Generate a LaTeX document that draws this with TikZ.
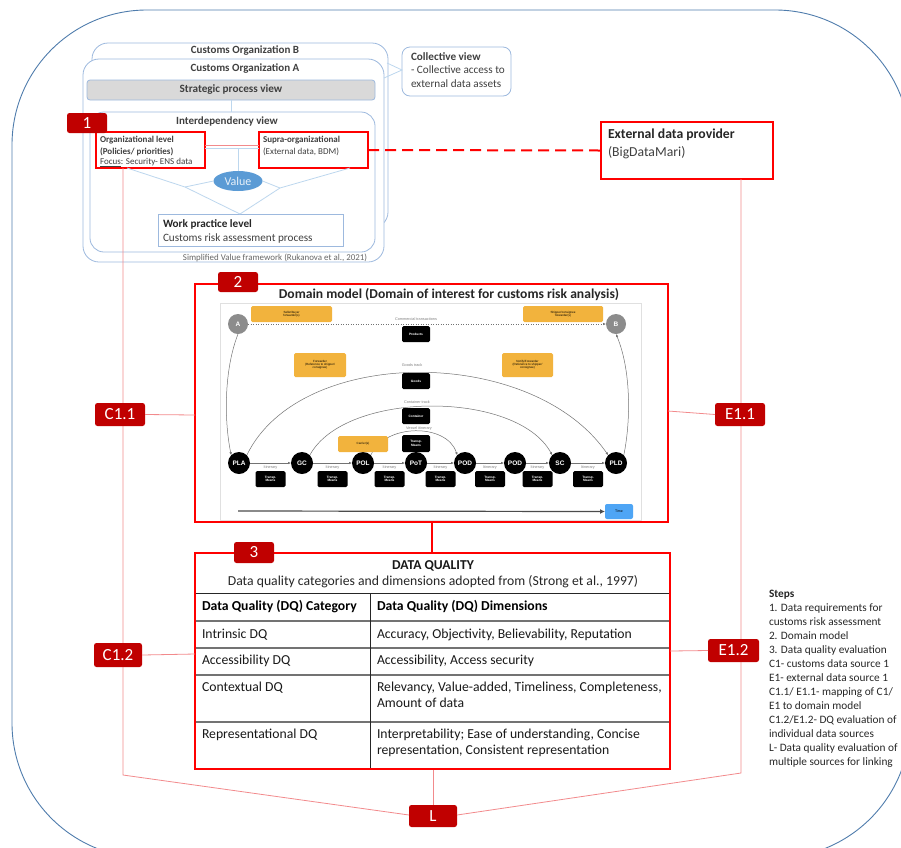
\documentclass[tikz,border=0pt]{standalone}
\usepackage{fontspec}
\setmainfont{Carlito}
\newfontfamily\hvfont{Liberation Sans}
\usetikzlibrary{arrows.meta,shapes.geometric,calc}
\definecolor{lblred}{HTML}{C00000}
\definecolor{frameblue}{HTML}{4F7CAC}
\definecolor{lightblue}{HTML}{9DB9DE}
\definecolor{paleblue}{HTML}{BDD7EE}
\definecolor{valblue}{HTML}{5B9BD5}
\definecolor{orangebox}{HTML}{F2B33D}
\definecolor{thinred}{HTML}{F28A8C}
\definecolor{timeblue}{HTML}{4EA5F5}
\definecolor{txtgray}{HTML}{404040}
\newcommand{\myfs}[1]{\fontsize{#1}{#1}\selectfont}
\tikzset{
  every node/.style={inner sep=0pt, outer sep=0pt},
  bluebox/.style={draw=lightblue, line width=0.8pt},
  redbox/.style={draw=red, line width=1.5pt},
  thickred/.style={draw=red, line width=2.2pt},
  lbl/.style={fill=lblred, rounded corners=2.5pt, text=white, font=\myfs{17}},
  thinline/.style={draw=thinred, line width=0.8pt},
  paleline/.style={draw=paleblue, line width=0.8pt},
  blk/.style={fill=black, rounded corners=1.5pt, text=white, font=\hvfont\myfs{3.2}\bfseries, align=center},
  orbox/.style={fill=orangebox, rounded corners=1.5pt, font=\hvfont\myfs{3}, align=center},
  circ/.style={circle, fill=black, minimum size=22pt, text=white, font=\hvfont\myfs{6.5}\bfseries},
  gcirc/.style={circle, fill=black!45, minimum size=20pt, text=white, font=\hvfont\myfs{6.5}\bfseries},
  gtxt/.style={text=black!50, font=\hvfont\myfs{3.8}},
  garrow/.style={draw=black!55, line width=0.5pt, -{Latex[length=3pt,width=2.5pt]}},
  tab/.style={anchor=base west, font=\myfs{13.7}, text=black!90},
  tabh/.style={anchor=base west, font=\myfs{13.7}\bfseries},
  steptxt/.style={anchor=base west, font=\myfs{11.3}, text=black!85},
}
\begin{document}
\begin{tikzpicture}[x=1pt,y=-1pt]
\useasboundingbox (0,0) rectangle (901,847);
\clip (0,0) rectangle (901,847);
% outer frame
\draw[frameblue, line width=0.9pt, rounded corners=135pt] (12,10) rectangle (910,858);

% ---------- value framework ----------
\node[bluebox, rounded corners=16pt, fill=white, minimum width=296pt, minimum height=185pt] (orgB) at (240,135.5) {};
\node[font=\myfs{11}\bfseries, text=txtgray] (orgBt) at (245,51) {Customs Organization B};
\node[bluebox, rounded corners=16pt, fill=white, minimum width=301pt, minimum height=203pt] (orgA) at (233.5,160.5) {};
\node[font=\myfs{11}\bfseries, text=txtgray] (orgAt) at (245,69) {Customs Organization A};
\node[bluebox, rounded corners=3pt, fill=black!15, minimum width=288pt, minimum height=20pt, font=\myfs{11.2}\bfseries, text=txtgray] (strat) at (231,90) {Strategic process view};
\node[bluebox, rounded corners=14pt, fill=white, minimum width=285pt, minimum height=140pt] (inter) at (232.5,182) {};
\draw[paleline] (strat.south) -- (strat.south |- inter.north);
\node[font=\myfs{11}\bfseries, text=txtgray] (intert) at (227,121) {Interdependency view};

% collective view
\node[bluebox, rounded corners=8pt, fill=white, minimum width=109pt, minimum height=49pt] (coll) at (456.5,71.5) {};
\node[anchor=base west, font=\myfs{11.2}\bfseries, text=txtgray] (collt1) at (411,60.7) {Collective view};
\node[anchor=base west, font=\myfs{11.2}, text=txtgray] (collt2) at (411,73.7) {- Collective access to};
\node[anchor=base west, font=\myfs{11.2}, text=txtgray] (collt3) at (411,87.7) {external data assets};
\coordinate (cB) at (387,63);
\coordinate (cA) at (384,78);
\coordinate (cC) at (402,70);
\draw[paleline] (cB) -- (cC) -- (cA);

% org / supra
\node[redbox, fill=white, minimum width=109pt, minimum height=36pt] (org) at (150.5,150) {};
\node[redbox, fill=white, minimum width=109pt, minimum height=36pt] (supra) at (313.5,150) {};
\draw[thinline] (org.east |- 0,145) -- (supra.west |- 0,145);
\draw[paleline] (org.east |- 0,148) -- (supra.west |- 0,148);
\node[ellipse, fill=valblue, minimum width=49pt, minimum height=20pt, text=white!85!valblue, font=\myfs{12}] (value) at (238,181) {Value};
\draw[paleline] (238,148) -- (value.north);
\node[bluebox, fill=white, minimum width=185pt, minimum height=32pt] (work) at (250.5,230) {};
\coordinate (ob) at (127,168);
\coordinate (sb) at (350,168);
\coordinate (p1) at (185,187);
\coordinate (p2) at (280,188);
\coordinate (wt) at (240,214);
\draw[paleline] (ob) -- (p1) -- (wt) -- (p2) -- (sb);
\draw[paleline] (p1) -- (value.west);
\draw[paleline] (p2) -- (value.east);
\node[anchor=base west, font=\myfs{9}\bfseries, text=txtgray] (orgt1) at (100,142) {Organizational level};
\node[anchor=base west, font=\myfs{9}\bfseries, text=txtgray] (orgt2) at (100,154) {(Policies/ priorities)};
\node[anchor=base west, font=\myfs{9}, text=txtgray] (orgt3) at (100,164.5) {\underline{Focus}: Security- ENS data};
\node[anchor=base west, font=\myfs{9}\bfseries, text=txtgray] (supt1) at (263,142) {Supra-organizational};
\node[anchor=base west, font=\myfs{9}, text=txtgray] (supt2) at (263,154) {(External data, BDM)};
\node[anchor=base west, font=\myfs{11.2}\bfseries, text=black!85] (workt1) at (163,227.7) {Work practice level};
\node[anchor=base west, font=\myfs{11.2}, text=txtgray] (workt2) at (163,241.2) {Customs risk assessment process};
\node[font=\myfs{8.9}, text=black!60] (simp) at (275,258) {Simplified Value framework (Rukanova et al., 2021)};
\node[lbl, minimum width=40pt, minimum height=20pt] (l1) at (87,123) {1};

% external provider
\node[thickred, fill=white, minimum width=172pt, minimum height=57pt] (ext) at (687,150.5) {};
\node[anchor=base west, font=\myfs{13.7}\bfseries, text=black!85] (extt1) at (608,138.5) {External data provider};
\node[anchor=base west, font=\myfs{13.7}, text=txtgray] (extt2) at (608,156) {(BigDataMari)};
\draw[red, line width=2pt, dash pattern=on 11pt off 6pt] (supra.east) -- (ext.west);

% ---------- thin red connectors ----------
\coordinate (lt) at (123,168);
\coordinate (lb) at (123,775);
\coordinate (rt) at (741,179);
\coordinate (rb) at (741,773);
\coordinate (mb) at (433,769);
\node[lbl, minimum width=48pt, minimum height=22pt] (L) at (433,816) {L};
\draw[thinline] (lt) -- (lb) -- (L.west |- 0,815);
\draw[thinline] (rt) -- (rb) -- (L.east |- 0,815);
\draw[thinline] (mb) -- (L.north);

% ---------- domain model ----------
\node[thickred, fill=white, minimum width=473pt, minimum height=238pt] (dom) at (431.5,403) {};
\node[font=\myfs{13.6}\bfseries, text=black!85] (domt) at (449,295) {Domain model (Domain of interest for customs risk analysis)};
\node[draw=black!12, line width=0.5pt, minimum width=421pt, minimum height=217pt] (img) at (430.5,412) {};

\node[gcirc] (A) at (238,324) {A};
\node[gcirc] (B) at (616,324) {B};
\node[orbox, minimum width=81pt, minimum height=16pt] (sel) at (291.5,314) {Seller/buyer\\forwarder(s)};
\node[orbox, minimum width=80pt, minimum height=16pt] (shp) at (563,314) {Shipper/consignee\\forwarder(s)};
\node[gtxt] (comt) at (416,319) {Commercial transactions};
\draw[garrow, dotted] (A) -- (B);
\node[blk, minimum width=28pt, minimum height=16pt] (prod) at (416,334) {Products};
\node[orbox, minimum width=52pt, minimum height=24pt] (fwd) at (320,365) {Forwarder\\(Reference to shipper/\\consignee)};
\node[orbox, minimum width=51pt, minimum height=24pt] (nfwd) at (527.5,365) {Notify/Forwarder\\(Reference to shipper/\\consignee)};

\node[circ] (pla) at (239,463) {PLA};
\node[circ] (gc) at (302,463) {GC};
\node[circ] (pol) at (363,463) {POL};
\node[circ] (pot) at (416,463) {PoT};
\node[circ] (poda) at (465,463) {POD};
\node[circ] (podb) at (515,463) {POD};
\node[circ] (sc) at (560,463) {SC};
\node[circ] (pld) at (616,463) {PLD};

\draw[garrow] (A.south) .. controls (224,370) and (224,420) .. (pla.north west);
\draw[garrow] (pld.north east) .. controls (631,420) and (631,370) .. (B.south);
\draw[garrow] (pla.north east) .. controls (300,345) and (532,345) .. (pld.north west);
\draw[garrow] (gc.north east) .. controls (345,390) and (517,390) .. (sc.north west);
\draw[garrow] (pol.north east) .. controls (385,423) and (447,423) .. (poda.north west);

\node[gtxt] (goodt) at (412,365) {Goods track};
\node[blk, minimum width=28pt, minimum height=16pt] (goods) at (416,381) {Goods};
\node[gtxt] (contt) at (417,402) {Container track};
\node[blk, minimum width=28pt, minimum height=16pt] (cont) at (416,416) {Container};
\node[gtxt] (vest) at (419,429) {Vessel itinerary};
\node[blk, minimum width=28pt, minimum height=17pt] (vtm) at (416,443.5) {Transp.\\Means};
\node[orbox, minimum width=50pt, minimum height=16pt] (carr) at (363,444) {Carrier(s)};

\foreach \a/\b/\n in {pla/gc/1, gc/pol/2, pol/pot/3, pot/poda/4, poda/podb/5, podb/sc/6, sc/pld/7} {
  \draw[garrow] (\a) -- (\b);
  \node[gtxt] (it\n) at ($(\a)!0.5!(\b)+(0,4.5)$) {Itinerary};
  \node[blk, minimum width=30pt, minimum height=16pt] (tm\n) at ($(\a)!0.5!(\b)+(0,16)$) {Transp.\\Means};
}
\node[fill=timeblue, rounded corners=2pt, minimum width=28pt, minimum height=15pt, font=\hvfont\myfs{3.5}] (time) at (619,511.5) {Time};
\coordinate (ts) at (238,511);
\draw[black!70, line width=1.2pt, -{Latex[length=5pt,width=5pt]}] (ts) -- (time.west);
\node[lbl, minimum width=40pt, minimum height=20pt] (l2) at (238,282) {2};

% ---------- data quality ----------
\node[thickred, fill=white, minimum width=475pt, minimum height=216pt] (dq) at (432.5,661) {};
\draw[red, line width=2pt] (dom.south) -- (dom.south |- dq.north);
\node[lbl, minimum width=40pt, minimum height=21pt] (l3) at (254,552.5) {3};
\node[font=\myfs{13.6}\bfseries, text=black!90] (dqt) at (433,566) {DATA QUALITY};
\node[font=\myfs{13.7}, text=black!85] (dqs) at (433,582) {Data quality categories and dimensions adopted from (Strong et al., 1997)};
\coordinate (hl) at (196,593);
\coordinate (hr) at (669,593);
\draw[black!85, line width=1pt] (hl) -- (hr);
\foreach \yy in {621,648,675,722} \draw[black!55, line width=1.6pt] (196,\yy) -- (669,\yy);
\draw[black!85, line width=1pt] (370,593) -- (370,768);
\node[tabh] (h1) at (202,610.5) {Data Quality (DQ) Category};
\node[tabh] (h2) at (377,610.5) {Data Quality (DQ) Dimensions};
\node[tab] (c1) at (202,638.5) {Intrinsic DQ};
\node[tab] (d1) at (377,638.5) {Accuracy, Objectivity, Believability, Reputation};
\node[tab] (c2) at (202,664.5) {Accessibility DQ};
\node[tab] (d2) at (377,664.5) {Accessibility, Access security};
\node[tab] (c3) at (202,691.5) {Contextual DQ};
\node[tab] (d3) at (377,691.5) {Relevancy, Value-added, Timeliness, Completeness,};
\node[tab] (d3b) at (377,707.5) {Amount of data};
\node[tab] (c4) at (202,738.5) {Representational DQ};
\node[tab] (d4) at (377,738.5) {Interpretability; Ease of understanding, Concise};
\node[tab] (d4b) at (377,754.5) {representation, Consistent representation};

% ---------- labels on connectors ----------
\node[lbl, minimum width=50pt, minimum height=23pt] (C11) at (120,414.5) {C1.1};
\node[lbl, minimum width=50pt, minimum height=23pt] (E11) at (740,414.5) {E1.1};
\node[lbl, minimum width=48pt, minimum height=24pt] (C12) at (118,655) {C1.2};
\node[lbl, minimum width=51pt, minimum height=23pt] (E12) at (733.5,650.5) {E1.2};
\draw[thinline] (C11.east) -- (dom.west |- 0,415);
\draw[thinline] (E11.west) -- (dom.east |- 0,411);
\draw[thinline] (C12.east) -- (dq.west |- 0,654);
\draw[thinline] (E12.west) -- (dq.east |- 0,651);

% ---------- steps ----------
\node[anchor=base west, font=\myfs{11.3}\bfseries, text=black!85] (st0) at (769,597) {Steps};
\foreach \t [count=\i] in {1. Data requirements for, customs risk assessment, 2. Domain model, 3. Data quality evaluation, C1- customs data source 1, E1- external data source 1, C1.1/ E1.1- mapping of C1/, E1 to domain model, C1.2/E1.2- DQ evaluation of, individual data sources, L- Data quality evaluation of, multiple sources for linking}
  \node[steptxt] (st\i) at (769,597+14*\i) {\t};
\end{tikzpicture}
\end{document}
